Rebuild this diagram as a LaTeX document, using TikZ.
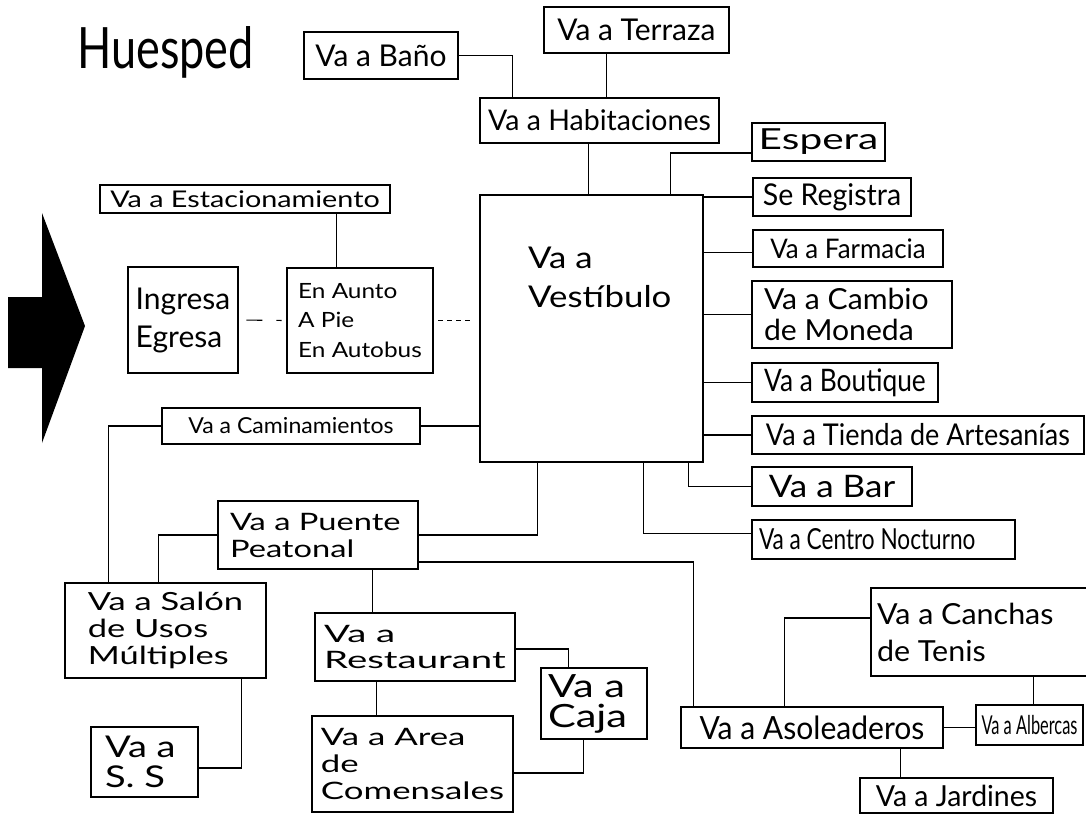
\documentclass[tikz,border=0pt]{standalone}
\usepackage{fontspec}
\setmainfont{Lato}
\newcommand\F[3]{\addfontfeatures{FakeStretch=#3}\fontsize{#1}{#2}\selectfont}
\tikzset{
  bx/.style={draw,line width=2.6pt,inner sep=0pt,align=left},
  ln/.style={line width=1.1pt}
}
\newcommand\mybox[7]{\node[bx,#6,minimum width={(#4)-(#2)},minimum height={(#5)-(#3)}] (#1) at ({((#2)+(#4))/2},{((#3)+(#5))/2}) {#7};}
\newcommand\myboxl[8]{\node[bx,align=flush left,#6,inner xsep=#8,text width={(#4)-(#2)-2*(#8)},minimum width={(#4)-(#2)},minimum height={(#5)-(#3)}] (#1) at ({((#2)+(#4))/2},{((#3)+(#5))/2}) {#7};}
\begin{document}
\begin{tikzpicture}[x=1pt,y=-1pt]
\clip (0,0) rectangle (1086,817);
\fill[white] (0,0) rectangle (1086,817);

% title and arrow
\node[anchor=base west,inner sep=0pt,font=\F{57}{60}{0.79}] (hues) at (77,68) {Huesped};
\fill (8,297) -- (42,297) -- (42,213) -- (85,326) -- (42,443) -- (42,368) -- (8,368) -- cycle;

% boxes
\mybox{bano}{304}{32}{458}{79}{font=\F{30}{34}{1.0}}{Va a Baño}
\mybox{terraza}{544}{7}{729}{53}{font=\F{30}{34}{1.0}}{Va a Terraza}
\mybox{habit}{480}{98}{719}{143}{font=\F{28.5}{32}{1.0}}{Va a Habitaciones}
\mybox{espera}{752}{123}{885}{161}{font=\F{29}{32}{1.4}}{Espera}
\mybox{reg}{753}{178}{911}{216}{font=\F{30}{34}{0.95}}{Se Registra}
\mybox{farm}{753}{230}{943}{267}{font=\F{27}{30}{0.96}}{Va a Farmacia}
\myboxl{cambio}{752}{281}{952}{348}{font=\F{29}{31}{1.04}}{Va a Cambio\\de Moneda}{12}
\mybox{bout}{752}{363}{938}{402}{font=\F{31}{34}{0.85}}{Va a Boutique}
\mybox{tienda}{752}{416}{1084}{454}{font=\F{30}{34}{0.9}}{Va a Tienda de Artesanías}
\mybox{bar}{752}{467}{912}{506}{font=\F{31}{34}{1.13}}{Va a Bar}
\myboxl{centro}{752}{520}{1015}{559}{font=\F{29}{32}{0.78}}{Va a Centro Nocturno}{7}
\mybox{vest}{480}{195}{703}{462}{}{}
\node[anchor=west,align=left,inner sep=0pt,font=\F{30}{39}{1.16}] (vestt) at (528,277) {Va a\\Vestíbulo};
\mybox{estac}{100}{185}{390}{213}{font=\F{23}{26}{1.25}}{Va a Estacionamiento}
\mybox{ing}{128}{267}{238}{373}{font=\F{30}{38}{1.0}}{Ingresa\\Egresa}
\mybox{auto}{287}{268}{433}{373}{font=\F{21}{29.5}{1.16}}{En Aunto\\A Pie\\En Autobus}
\mybox{camin}{162}{408}{420}{444}{font=\F{22}{25}{1.05}}{Va a Caminamientos}
\myboxl{puente}{218}{501}{418}{569}{font=\F{24}{27}{1.36}}{Va a Puente\\Peatonal}{12}
\mybox{salon}{65}{583}{266}{678}{font=\F{25}{27}{1.38}}{Va a Salón\\de Usos\\Múltiples}
\myboxl{ss}{91}{727}{198}{797}{font=\F{30}{30}{1.27}}{Va a\\S. S}{14}
\mybox{rest}{315}{613}{515}{681}{font=\F{24}{26}{1.6}}{Va a\\Restaurant}
\mybox{area}{312}{716}{513}{812}{font=\F{24}{27}{1.45}}{Va a Area\\de\\Comensales}
\myboxl{caja}{541}{668}{647}{739}{font=\F{32}{30}{1.3}}{Va a\\Caja}{7}
\mybox{asol}{681}{707}{943}{748}{font=\F{32}{35}{0.94}}{Va a Asoleaderos}
\myboxl{canchas}{871}{588}{1095}{676}{font=\F{29}{37}{1.05}}{Va a Canchas\\de Tenis}{6}
\mybox{alb}{976}{705}{1083}{745}{font=\F{26}{28}{0.63}}{Va a Albercas}
\mybox{jard}{860}{778}{1053}{813}{font=\F{29}{32}{0.98}}{Va a Jardines}

% connectors
\draw[ln] (bano.east) -| ([xshift=34pt]habit.north west);
\coordinate (t1) at ([xshift=64pt]terraza.south west);
\draw[ln] (t1) -- (t1 |- habit.north);
\coordinate (c1) at ([xshift=110pt]vest.north west);
\draw[ln] (c1) -- (c1 |- habit.south);
\draw[ln] ([yshift=-11pt]espera.west) -| ([xshift=-34pt]vest.north east);
\draw[ln] (reg.west) -- (reg.west -| vest.east);
\coordinate (f1) at ([yshift=-4pt]farm.west);
\draw[ln] (f1) -- (f1 -| vest.east);
\draw[ln] (cambio.west) -- (cambio.west -| vest.east);
\draw[ln] (bout.west) -- (bout.west -| vest.east);
\draw[ln] (tienda.west) -- (tienda.west -| vest.east);
\draw[ln] ([xshift=-16pt]vest.south east) |- (bar.west);
\draw[ln] ([xshift=-61pt]vest.south east) |- ([yshift=6pt]centro.west);
\coordinate (e1) at ([xshift=51pt]auto.north west);
\draw[ln] (e1) -- (e1 |- estac.south);
\draw[ln,dash pattern=on 16pt off 14pt,shorten <=7pt,shorten >=4pt] (ing.east) -- (auto.west);
\draw[ln,dash pattern=on 5pt off 4pt,shorten <=4pt,shorten >=7pt] (auto.east) -- (auto.east -| vest.west);
\draw[ln] (camin.east) -- (camin.east -| vest.west);
\draw[ln] (camin.west) -| ([xshift=45pt]salon.north west);
\draw[ln] ([xshift=59pt]vest.south west) |- (puente.east);
\draw[ln] (puente.west) -| ([xshift=95pt]salon.north west);
\draw[ln] ([yshift=-27pt]puente.east) -| ([xshift=14pt]asol.north west);
\coordinate (p1) at ([xshift=59pt]rest.north west);
\draw[ln] (p1) -- (p1 |- puente.south);
\coordinate (r1) at ([xshift=63pt]rest.south west);
\draw[ln] (r1) -- (r1 |- area.north);
\draw[ln] ([yshift=-2pt]rest.east) -| ([xshift=29pt]caja.north west);
\draw[ln] ([yshift=-9pt]area.east) -| ([xshift=44pt]caja.south west);
\draw[ln] ([xshift=-26pt]salon.south east) |- ([yshift=-6pt]ss.east);
\draw[ln] ([yshift=14pt]canchas.west) -| ([xshift=105pt]asol.north west);
\draw[ln] (asol.east) -- (asol.east -| alb.west);
\coordinate (a1) at ([xshift=59pt]alb.north west);
\draw[ln] (a1) -- (a1 |- canchas.south);
\coordinate (j1) at ([xshift=42pt]jard.north west);
\draw[ln] (j1) -- (j1 |- asol.south);
\end{tikzpicture}
\end{document}
